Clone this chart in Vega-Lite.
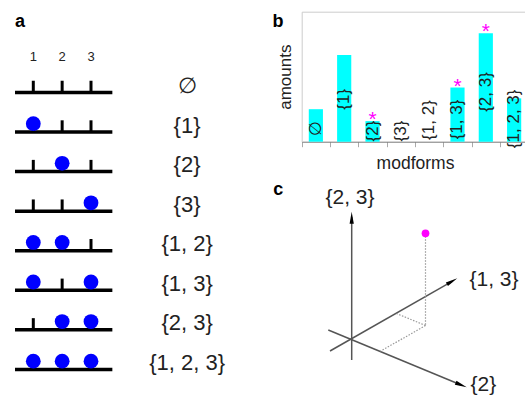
{
  "$schema": "https://vega.github.io/schema/vega-lite/v6.json",
  "width": 525,
  "height": 397,
  "autosize": "none",
  "padding": 0,
  "config": {"view": {"stroke": null}, "font": "Liberation Sans", "text": {"font": "Liberation Sans"}},
  "datasets": {
    "sets": [
      {"label": "∅", "row": 0},
      {"label": "{1}", "row": 1},
      {"label": "{2}", "row": 2},
      {"label": "{3}", "row": 3},
      {"label": "{1, 2}", "row": 4},
      {"label": "{1, 3}", "row": 5},
      {"label": "{2, 3}", "row": 6},
      {"label": "{1, 2, 3}", "row": 7}
    ],
    "cells": [
      {"row": 0, "slot": 1, "filled": 0}, {"row": 0, "slot": 2, "filled": 0}, {"row": 0, "slot": 3, "filled": 0},
      {"row": 1, "slot": 1, "filled": 1}, {"row": 1, "slot": 2, "filled": 0}, {"row": 1, "slot": 3, "filled": 0},
      {"row": 2, "slot": 1, "filled": 0}, {"row": 2, "slot": 2, "filled": 1}, {"row": 2, "slot": 3, "filled": 0},
      {"row": 3, "slot": 1, "filled": 0}, {"row": 3, "slot": 2, "filled": 0}, {"row": 3, "slot": 3, "filled": 1},
      {"row": 4, "slot": 1, "filled": 1}, {"row": 4, "slot": 2, "filled": 1}, {"row": 4, "slot": 3, "filled": 0},
      {"row": 5, "slot": 1, "filled": 1}, {"row": 5, "slot": 2, "filled": 0}, {"row": 5, "slot": 3, "filled": 1},
      {"row": 6, "slot": 1, "filled": 0}, {"row": 6, "slot": 2, "filled": 1}, {"row": 6, "slot": 3, "filled": 1},
      {"row": 7, "slot": 1, "filled": 1}, {"row": 7, "slot": 2, "filled": 1}, {"row": 7, "slot": 3, "filled": 1}
    ],
    "forms": [
      {"form": "∅", "amount": 3, "labelpos": 1.26, "star": false},
      {"form": "{1}", "amount": 8, "labelpos": 3.91, "star": false},
      {"form": "{2}", "amount": 1.9, "labelpos": 0.99, "star": true},
      {"form": "{3}", "amount": 0, "labelpos": 0.99, "star": false},
      {"form": "{1, 2}", "amount": 0, "labelpos": 2.0, "star": false},
      {"form": "{1, 3}", "amount": 5, "labelpos": 2.05, "star": true},
      {"form": "{2, 3}", "amount": 10, "labelpos": 4.59, "star": true},
      {"form": "{1, 2, 3}", "amount": 4, "labelpos": 2.11, "star": false}
    ],
    "segments": [
      {"kind": "axis", "x": 0, "y": -2.07, "x2": 0, "y2": 12.2},
      {"kind": "axis", "x": -2.17, "y": -1.17, "x2": 10.04, "y2": 5.8},
      {"kind": "axis", "x": -2.34, "y": 0.93, "x2": 10.95, "y2": -4.57},
      {"kind": "dot", "x": 7.38, "y": 10.6, "x2": 7.38, "y2": 1.38},
      {"kind": "dot", "x": 7.38, "y": 1.38, "x2": 4.5, "y2": 2.57},
      {"kind": "dot", "x": 7.38, "y": 1.38, "x2": 2.88, "y2": -1.19}
    ],
    "arrows": [
      {"x": 0, "y": 12.16, "angle": 0},
      {"x": 10.04, "y": 5.8, "angle": 60},
      {"x": 10.95, "y": -4.57, "angle": 112.6}
    ],
    "axislabels": [
      {"label": "{2, 3}", "x": -0.17, "y": 14.18},
      {"label": "{1, 3}", "x": 14.23, "y": 5.98},
      {"label": "{2}", "x": 13.16, "y": -4.57}
    ],
    "point": [{"x": 7.38, "y": 10.6}],
    "panels": [{"panel": "a"}, {"panel": "b"}, {"panel": "c"}]
  },
  "resolve": {"scale": {"x": "independent", "y": "independent"}, "axis": {"x": "independent", "y": "independent"}},
  "layer": [
    {
      "data": {"name": "sets"},
      "mark": {"type": "rule", "strokeWidth": 3.5, "color": "black"},
      "encoding": {
        "x": {"datum": 0.366, "type": "quantitative", "scale": {"domain": [0, 7], "range": [4.45, 206.4], "nice": false, "zero": false}, "axis": null},
        "x2": {"datum": 3.74},
        "y": {"field": "row", "type": "quantitative", "scale": {"domain": [-2, 8], "range": [13.3, 409], "nice": false, "zero": false}, "axis": null}
      }
    },
    {
      "data": {"name": "cells"},
      "mark": {"type": "tick", "orient": "vertical", "size": 11.7, "thickness": 3, "color": "black", "opacity": 1, "yOffset": -5.85},
      "encoding": {
        "x": {"field": "slot", "type": "quantitative", "scale": {"domain": [0, 7], "range": [4.45, 206.4], "nice": false, "zero": false}, "axis": null},
        "y": {"field": "row", "type": "quantitative", "scale": {"domain": [-2, 8], "range": [13.3, 409], "nice": false, "zero": false}, "axis": null}
      }
    },
    {
      "data": {"name": "cells"},
      "transform": [{"filter": "datum.filled == 1"}],
      "mark": {"type": "circle", "size": 219, "color": "#0000ff", "opacity": 1, "yOffset": -8.3},
      "encoding": {
        "x": {"field": "slot", "type": "quantitative", "scale": {"domain": [0, 7], "range": [4.45, 206.4], "nice": false, "zero": false}, "axis": null},
        "y": {"field": "row", "type": "quantitative", "scale": {"domain": [-2, 8], "range": [13.3, 409], "nice": false, "zero": false}, "axis": null}
      }
    },
    {
      "data": {"name": "cells"},
      "transform": [{"filter": "datum.row == 0"}],
      "mark": {"type": "text", "fontSize": 13, "color": "#222", "baseline": "middle", "align": "center"},
      "encoding": {
        "x": {"field": "slot", "type": "quantitative", "scale": {"domain": [0, 7], "range": [4.45, 206.4], "nice": false, "zero": false}, "axis": null},
        "y": {"datum": -0.887, "type": "quantitative", "scale": {"domain": [-2, 8], "range": [13.3, 409], "nice": false, "zero": false}, "axis": null},
        "text": {"field": "slot", "type": "quantitative", "format": "d"}
      }
    },
    {
      "data": {"name": "sets"},
      "mark": {"type": "text", "fontSize": 22, "color": "#222", "baseline": "middle", "align": "center", "yOffset": -6.5},
      "encoding": {
        "x": {"datum": 6.33, "type": "quantitative", "scale": {"domain": [0, 7], "range": [4.45, 206.4], "nice": false, "zero": false}, "axis": null},
        "y": {"field": "row", "type": "quantitative", "scale": {"domain": [-2, 8], "range": [13.3, 409], "nice": false, "zero": false}, "axis": null},
        "text": {"field": "label"}
      }
    },
    {
      "data": {"name": "panels"},
      "transform": [{"filter": "datum.panel == 'a'"}],
      "mark": {"type": "text", "fontSize": 18, "fontWeight": "bold", "color": "black", "baseline": "alphabetic", "align": "center"},
      "encoding": {
        "x": {"datum": 0.54, "type": "quantitative", "scale": {"domain": [0, 7], "range": [4.45, 206.4], "nice": false, "zero": false}, "axis": null},
        "y": {"datum": -1.66, "type": "quantitative", "scale": {"domain": [-2, 8], "range": [13.3, 409], "nice": false, "zero": false}, "axis": null},
        "text": {"field": "panel"}
      }
    },
    {
      "data": {"name": "panels"},
      "transform": [{"filter": "datum.panel == 'b'"}],
      "mark": {"type": "text", "fontSize": 18, "fontWeight": "bold", "color": "black", "baseline": "alphabetic", "align": "center"},
      "encoding": {
        "x": {"datum": 9.48, "type": "quantitative", "scale": {"domain": [0, 7], "range": [4.45, 206.4], "nice": false, "zero": false}, "axis": null},
        "y": {"datum": -1.66, "type": "quantitative", "scale": {"domain": [-2, 8], "range": [13.3, 409], "nice": false, "zero": false}, "axis": null},
        "text": {"field": "panel"}
      }
    },
    {
      "data": {"name": "forms"},
      "mark": {"type": "bar", "color": "#00ffff", "width": {"band": 0.5}},
      "encoding": {
        "x": {"field": "form", "type": "nominal",
              "scale": {"type": "band", "domain": ["∅", "{1}", "{2}", "{3}", "{1, 2}", "{1, 3}", "{2, 3}", "{1, 2, 3}"], "range": [301.7, 528.3], "paddingInner": 0, "paddingOuter": 0},
              "axis": {"orient": "bottom", "offset": -255.3, "labels": false, "ticks": true, "tickSize": 5, "tickColor": "#aaa", "tickBand": "extent", "domainColor": "#777", "grid": false,
                       "title": "modforms", "titleFont": "Liberation Sans", "titleFontSize": 17.5, "titleFontWeight": "normal", "titleColor": "#222", "titlePadding": 7}},
        "y": {"field": "amount", "type": "quantitative",
              "scale": {"domain": [0, 12], "range": [141.7, 11.7], "nice": false, "zero": true},
              "axis": {"orient": "left", "offset": -301.7, "labels": false, "ticks": false, "grid": false, "domainColor": "#ccc",
                       "title": "amounts", "titleFont": "Liberation Sans", "titleFontSize": 17, "titleFontWeight": "normal", "titleColor": "#222", "titlePadding": 7}}
      }
    },
    {
      "data": {"name": "forms"},
      "transform": [{"filter": "datum.star"}],
      "mark": {"type": "text", "text": "*", "fontSize": 21, "color": "#ff00ff", "baseline": "alphabetic", "align": "center", "dy": 5},
      "encoding": {
        "x": {"field": "form", "type": "nominal",
              "scale": {"type": "band", "domain": ["∅", "{1}", "{2}", "{3}", "{1, 2}", "{1, 3}", "{2, 3}", "{1, 2, 3}"], "range": [301.7, 528.3], "paddingInner": 0, "paddingOuter": 0},
              "axis": {"orient": "top", "offset": -11.7, "labels": false, "ticks": false, "grid": false, "domainColor": "#ccc", "title": null}},
        "y": {"field": "amount", "type": "quantitative", "scale": {"domain": [0, 12], "range": [141.7, 11.7], "nice": false, "zero": true}, "axis": null}
      }
    },
    {
      "data": {"name": "forms"},
      "mark": {"type": "text", "angle": 270, "fontSize": 17, "color": "#222", "baseline": "middle", "align": "center"},
      "encoding": {
        "x": {"field": "form", "type": "nominal",
              "scale": {"type": "band", "domain": ["∅", "{1}", "{2}", "{3}", "{1, 2}", "{1, 3}", "{2, 3}", "{1, 2, 3}"], "range": [301.7, 528.3], "paddingInner": 0, "paddingOuter": 0},
              "axis": null},
        "y": {"field": "labelpos", "type": "quantitative", "scale": {"domain": [0, 12], "range": [141.7, 11.7], "nice": false, "zero": true}, "axis": null},
        "text": {"field": "form"}
      }
    },
    {
      "data": {"name": "segments"},
      "transform": [{"filter": "datum.kind == 'axis'"}],
      "mark": {"type": "rule", "color": "#555", "strokeWidth": 1.5},
      "encoding": {
        "x": {"field": "x", "type": "quantitative", "scale": {"domain": [-3, 18], "range": [321.7, 531.7], "nice": false, "zero": false}, "axis": null},
        "y": {"field": "y", "type": "quantitative", "scale": {"domain": [-3, 15], "range": [369.3, 189.3], "nice": false, "zero": false}, "axis": null},
        "x2": {"field": "x2"},
        "y2": {"field": "y2"}
      }
    },
    {
      "data": {"name": "segments"},
      "transform": [{"filter": "datum.kind == 'dot'"}],
      "mark": {"type": "rule", "color": "#999", "strokeWidth": 1.2, "strokeDash": [1.5, 1.5]},
      "encoding": {
        "x": {"field": "x", "type": "quantitative", "scale": {"domain": [-3, 18], "range": [321.7, 531.7], "nice": false, "zero": false}, "axis": null},
        "y": {"field": "y", "type": "quantitative", "scale": {"domain": [-3, 15], "range": [369.3, 189.3], "nice": false, "zero": false}, "axis": null},
        "x2": {"field": "x2"},
        "y2": {"field": "y2"}
      }
    },
    {
      "data": {"name": "arrows"},
      "mark": {"type": "point", "shape": "M0,-1L0.35,1L-0.35,1Z", "size": 144, "filled": true, "color": "black", "opacity": 1},
      "encoding": {
        "x": {"field": "x", "type": "quantitative", "scale": {"domain": [-3, 18], "range": [321.7, 531.7], "nice": false, "zero": false}, "axis": null},
        "y": {"field": "y", "type": "quantitative", "scale": {"domain": [-3, 15], "range": [369.3, 189.3], "nice": false, "zero": false}, "axis": null},
        "angle": {"field": "angle", "type": "quantitative", "scale": null}
      }
    },
    {
      "data": {"name": "point"},
      "mark": {"type": "circle", "size": 60, "color": "#ff00ff", "opacity": 1},
      "encoding": {
        "x": {"field": "x", "type": "quantitative", "scale": {"domain": [-3, 18], "range": [321.7, 531.7], "nice": false, "zero": false}, "axis": null},
        "y": {"field": "y", "type": "quantitative", "scale": {"domain": [-3, 15], "range": [369.3, 189.3], "nice": false, "zero": false}, "axis": null}
      }
    },
    {
      "data": {"name": "axislabels"},
      "mark": {"type": "text", "fontSize": 21, "color": "#222", "baseline": "middle", "align": "center"},
      "encoding": {
        "x": {"field": "x", "type": "quantitative", "scale": {"domain": [-3, 18], "range": [321.7, 531.7], "nice": false, "zero": false}, "axis": null},
        "y": {"field": "y", "type": "quantitative", "scale": {"domain": [-3, 15], "range": [369.3, 189.3], "nice": false, "zero": false}, "axis": null},
        "text": {"field": "label"}
      }
    },
    {
      "data": {"name": "panels"},
      "transform": [{"filter": "datum.panel == 'c'"}],
      "mark": {"type": "text", "fontSize": 18, "fontWeight": "bold", "color": "black", "baseline": "alphabetic", "align": "center"},
      "encoding": {
        "x": {"datum": -7.34, "type": "quantitative", "scale": {"domain": [-3, 18], "range": [321.7, 531.7], "nice": false, "zero": false}, "axis": null},
        "y": {"datum": 14.43, "type": "quantitative", "scale": {"domain": [-3, 15], "range": [369.3, 189.3], "nice": false, "zero": false}, "axis": null},
        "text": {"field": "panel"}
      }
    }
  ]
}
